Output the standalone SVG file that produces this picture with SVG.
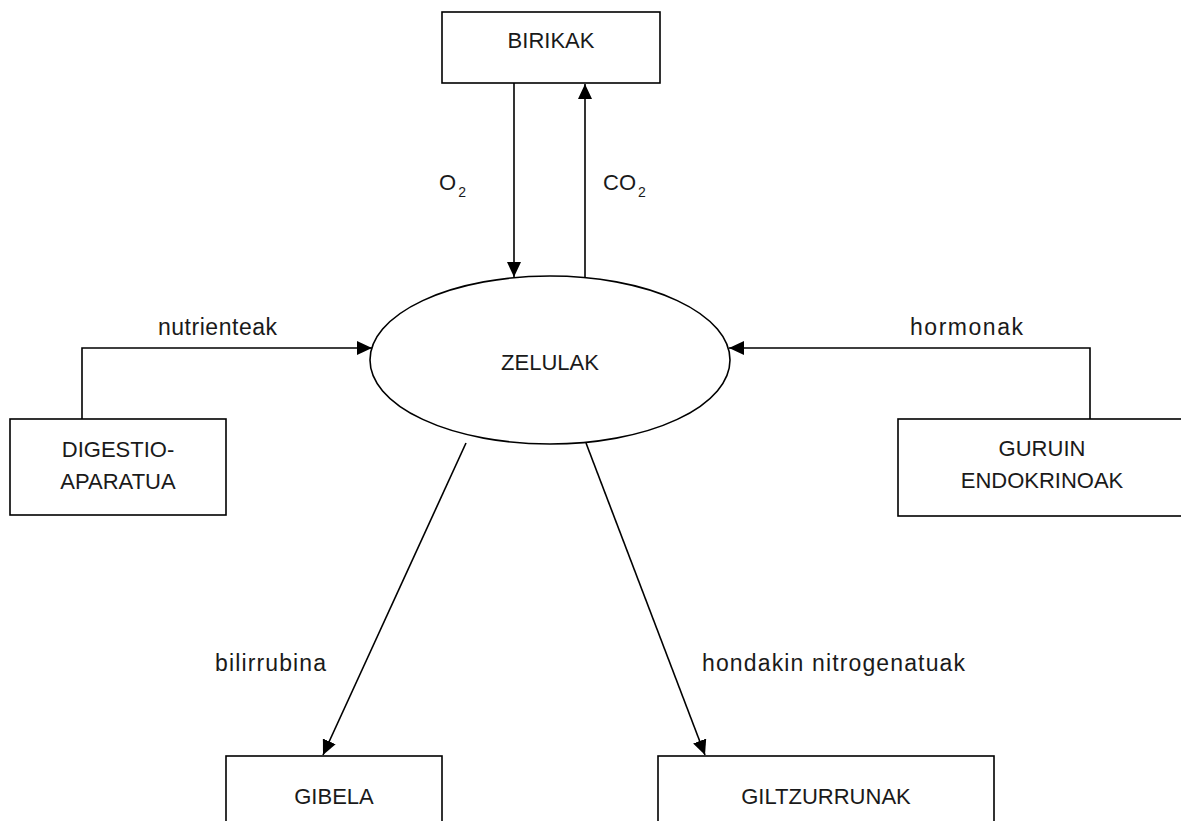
<svg xmlns="http://www.w3.org/2000/svg" width="1181" height="821" viewBox="0 0 1181 821">
  <defs>
    <marker id="arrow" viewBox="0 0 15 14" refX="15" refY="7" markerWidth="15" markerHeight="14" markerUnits="userSpaceOnUse" orient="auto">
      <path d="M0,0 L15,7 L0,14 z" fill="#000"/>
    </marker>
    <style>
      .box { fill: #fff; stroke: #000; stroke-width: 1.6; }
      .conn { fill: none; stroke: #000; stroke-width: 1.6; marker-end: url(#arrow); }
      text { font-family: "Liberation Sans", Arial, sans-serif; font-size: 22px; fill: #1a1a1a; }
      .lbl { font-size: 23px; }
      .c { text-anchor: middle; }
    </style>
  </defs>
  <rect width="1181" height="821" fill="#fff"/>

  <!-- connectors and their labels -->
  <g id="connectors">
    <path class="conn" d="M514,83 V277"/>
    <path class="conn" d="M585,277 V84"/>
    <path class="conn" d="M82,419 V348 H372"/>
    <path class="conn" d="M1090,419 V348 H729"/>
    <path class="conn" d="M466,443 L323,755"/>
    <path class="conn" d="M586,443 L705,755"/>
    <text x="439" y="190">O<tspan font-size="14" dx="2" dy="7">2</tspan></text>
    <text x="603" y="190">CO<tspan font-size="14" dx="2" dy="7">2</tspan></text>
    <text class="lbl" x="158" y="335" textLength="119" lengthAdjust="spacing">nutrienteak</text>
    <text class="lbl" x="910" y="335" textLength="113" lengthAdjust="spacing">hormonak</text>
    <text class="lbl" x="215" y="671" textLength="111" lengthAdjust="spacing">bilirrubina</text>
    <text class="lbl" x="702" y="671" textLength="263" lengthAdjust="spacing">hondakin nitrogenatuak</text>
  </g>

  <g id="birikak">
    <rect class="box" x="442" y="12" width="218" height="71"/>
    <text class="c" x="551" y="48">BIRIKAK</text>
  </g>

  <g id="zelulak">
    <ellipse class="box" cx="550" cy="360" rx="180" ry="84"/>
    <text class="c" x="550" y="370">ZELULAK</text>
  </g>

  <g id="digestio-aparatua">
    <rect class="box" x="10" y="419" width="216" height="96"/>
    <text class="c" x="118" y="457">DIGESTIO-</text>
    <text class="c" x="118" y="489">APARATUA</text>
  </g>

  <g id="guruin-endokrinoak">
    <rect class="box" x="898" y="419" width="290" height="97"/>
    <text class="c" x="1042" y="456">GURUIN</text>
    <text class="c" x="1042" y="488">ENDOKRINOAK</text>
  </g>

  <g id="gibela">
    <rect class="box" x="226" y="756" width="216" height="80"/>
    <text class="c" x="334" y="804">GIBELA</text>
  </g>

  <g id="giltzurrunak">
    <rect class="box" x="658" y="756" width="336" height="80"/>
    <text class="c" x="826" y="804">GILTZURRUNAK</text>
  </g>
</svg>
